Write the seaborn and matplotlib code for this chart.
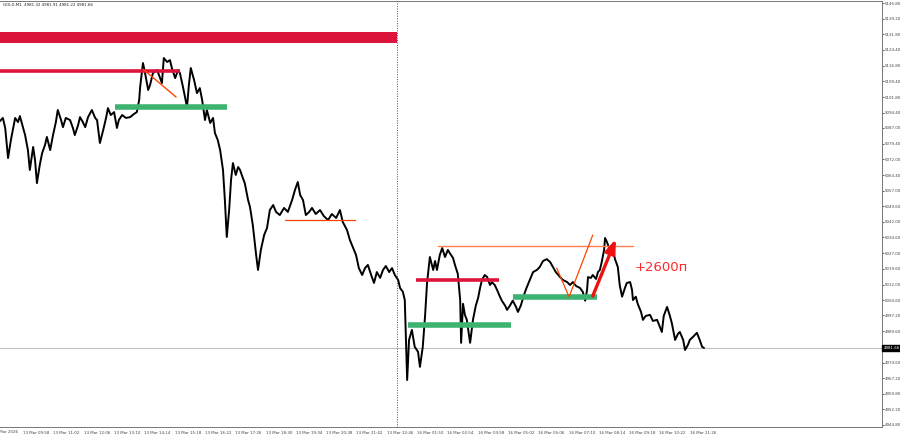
import matplotlib
matplotlib.use("Agg")
import matplotlib.pyplot as plt
import matplotlib.transforms as mtransforms
import seaborn as sns
import pandas as pd

# M1 bar index (minutes from chart start) and price
bars = [0, 6, 11, 17, 23, 32, 38, 42, 49, 53, 59, 63, 70, 74, 78, 84, 89, 95, 99, 106,
        112, 118, 122, 129, 133, 139, 148, 154, 158, 165, 169, 175, 180, 186, 194, 201, 205, 211, 218, 224,
        228, 234, 241, 247, 251, 258, 266, 275, 283, 289, 294, 296, 302, 306, 313, 317, 323, 332, 338, 342,
        346, 353, 359, 363, 370, 376, 380, 387, 395, 399, 403, 410, 416, 422, 427, 433, 437, 444, 450, 454,
        460, 465, 471, 475, 479, 484, 488, 492, 498, 503, 507, 513, 517, 524, 528, 534, 541, 545, 551, 558,
        564, 570, 577, 583, 591, 600, 608, 617, 623, 629, 634, 640, 646, 653, 659, 667, 676, 684, 693, 701,
        710, 718, 724, 733, 739, 746, 752, 758, 765, 771, 777, 784, 790, 796, 803, 809, 815, 822, 828, 834,
        841, 845, 851, 855, 860, 864, 870, 876, 883, 887, 893, 898, 902, 908, 915, 919, 923, 929, 934, 940,
        946, 950, 957, 961, 967, 972, 974, 978, 982, 986, 993, 999, 1005, 1010, 1014, 1018, 1024, 1029, 1035, 1039,
        1045, 1050, 1056, 1060, 1067, 1071, 1077, 1083, 1090, 1094, 1100, 1105, 1109, 1113, 1119, 1126, 1134, 1140, 1147, 1155,
        1162, 1168, 1174, 1183, 1189, 1198, 1204, 1210, 1217, 1225, 1231, 1236, 1240, 1242, 1248, 1252, 1259, 1263, 1267, 1271,
        1276, 1278, 1282, 1288, 1293, 1299, 1305, 1309, 1314, 1320, 1324, 1331, 1335, 1337, 1343, 1347, 1354, 1358, 1364, 1373,
        1379, 1388, 1394, 1398, 1402, 1409, 1415, 1419, 1426, 1432, 1436, 1443, 1447, 1453, 1457, 1464, 1472, 1478, 1483, 1487]
price = [5090.3, 5091.8, 5087.0, 5072.6, 5081.2, 5091.8, 5089.8, 5092.7, 5087.0, 5083.6, 5076.4, 5066.9, 5077.9, 5071.6, 5060.6, 5069.3, 5075.0, 5078.8, 5082.7, 5076.4,
         5083.6, 5089.8, 5095.6, 5090.8, 5087.4, 5091.8, 5090.8, 5087.0, 5083.6, 5088.4, 5092.2, 5089.8, 5087.4, 5092.2, 5095.6, 5091.8, 5090.8, 5079.8, 5086.0, 5091.8,
         5096.5, 5093.2, 5094.6, 5087.0, 5090.8, 5093.2, 5091.8, 5092.2, 5093.7, 5094.6, 5100.4, 5106.6, 5118.1, 5113.8, 5105.2, 5107.6, 5113.3, 5114.7, 5110.9, 5108.5,
         5120.5, 5118.6, 5119.5, 5115.7, 5110.9, 5114.7, 5113.3, 5106.1, 5097.0, 5107.6, 5115.7, 5109.9, 5103.7, 5106.1, 5100.4, 5090.8, 5095.6, 5089.4, 5091.8, 5084.6,
         5081.2, 5076.4, 5066.9, 5052.5, 5034.8, 5047.7, 5062.1, 5070.2, 5064.5, 5068.3, 5066.9, 5063.0, 5060.6, 5052.5, 5049.2, 5040.5, 5026.2, 5019.0, 5028.6, 5035.8,
         5039.1, 5047.7, 5050.1, 5046.8, 5045.3, 5048.7, 5046.8, 5052.5, 5057.3, 5061.1, 5054.9, 5052.5, 5045.3, 5046.8, 5048.7, 5045.8, 5047.7, 5044.8, 5042.9, 5045.8,
         5043.9, 5047.7, 5042.0, 5038.1, 5033.4, 5029.5, 5026.2, 5019.9, 5016.6, 5019.9, 5021.4, 5016.6, 5012.8, 5018.0, 5015.2, 5019.0, 5020.9, 5018.0, 5019.9, 5016.6,
         5014.2, 5010.4, 5008.5, 5004.6, 4966.3, 4985.5, 4990.3, 4982.2, 4979.8, 4972.6, 4982.2, 4997.5, 5012.8, 5025.2, 5019.0, 5023.3, 5019.0, 5026.2, 5029.5, 5025.2,
         5028.6, 5027.1, 5024.7, 5021.4, 5017.1, 5004.6, 4984.1, 5002.8, 4997.5, 4995.1, 4984.1, 4995.1, 5001.9, 5005.7, 5010.4, 5014.2, 5016.6, 5015.6, 5011.8, 5013.2,
         5011.8, 5009.4, 5006.2, 5004.3, 5001.9, 4999.9, 5001.9, 5004.3, 5001.3, 4998.9, 5001.9, 5005.7, 5008.5, 5010.9, 5014.2, 5018.0, 5019.0, 5020.4, 5023.3, 5024.2,
         5022.8, 5020.4, 5018.0, 5015.6, 5014.2, 5013.2, 5011.8, 5013.2, 5011.3, 5010.4, 5008.5, 5004.3, 5009.4, 5015.6, 5015.2, 5016.6, 5014.7, 5018.0, 5019.0, 5022.8,
         5028.6, 5034.3, 5032.4, 5028.6, 5030.5, 5024.2, 5020.4, 5011.8, 5006.2, 5010.4, 5012.8, 5013.2, 5009.4, 5004.6, 5006.2, 5002.8, 4998.9, 4995.1, 4997.0, 4997.5,
         4994.6, 4995.1, 4991.7, 4989.3, 4997.0, 5001.3, 4997.0, 4993.6, 4985.5, 4988.4, 4989.3, 4985.5, 4980.7, 4983.1, 4985.5, 4987.0, 4988.9, 4985.5, 4982.2, 4981.66]

price_ticks = [5146.80, 5139.20, 5131.80, 5124.40, 5116.80, 5109.40, 5101.80, 5094.40, 5087.00, 5079.40,
               5072.00, 5064.40, 5057.00, 5049.60, 5042.00, 5034.60, 5027.00, 5019.60, 5012.00, 5004.60,
               4997.20, 4989.60, 4974.60, 4967.20, 4959.80, 4952.20, 4944.80]
time_labels = ["13 Mar 2026", "13 Mar 09:58", "13 Mar 11:02", "13 Mar 12:06", "13 Mar 13:10", "13 Mar 14:14",
               "13 Mar 15:18", "13 Mar 16:22", "13 Mar 17:26", "13 Mar 18:30", "13 Mar 19:34", "13 Mar 20:38",
               "13 Mar 21:42", "13 Mar 22:46", "16 Mar 01:50", "16 Mar 02:54", "16 Mar 03:58", "16 Mar 05:02",
               "16 Mar 06:06", "16 Mar 07:10", "16 Mar 08:14", "16 Mar 09:18", "16 Mar 10:22", "16 Mar 11:26"]
time_ticks = [-15 + 64 * i for i in range(len(time_labels))]

last_price = 4981.66
day_break = 838

# drawn levels: (price, start bar, end bar)
supply_zone = (5127.7, 5133.0, 0, 838)
red_levels = [(5114.4, 0, 380), (5014.1, 879, 1054)]
green_levels = [(5097.1, 243, 479), (4992.6, 862, 1079), (5006.0, 1083, 1261)]
thin_levels = [(5042.9, 602, 750), (5030.6, 925, 1337)]
trend_x = [302, 372]
trend_y = [5115.2, 5101.8]
v_x = [1176, 1202, 1252]
v_y = [5019.9, 5006.1, 5035.7]
arrow_from = (1252, 5006.5)
arrow_to = (1301, 5033.8)

df = pd.DataFrame({"bar": bars, "price": price})

sns.set_style("white")
plt.rcParams["font.family"] = ["DejaVu Sans"]

fig = plt.figure(figsize=(9, 4.38), dpi=100)
ax = fig.add_axes([0.0, 0.0251, 0.98, 0.9726])
x_max = 1863

ax.axhspan(supply_zone[0], supply_zone[1], xmin=0, xmax=supply_zone[3] / x_max,
           color="#dc143c", lw=0, zorder=1)
ax.axhline(last_price, color="#c0c0c0", lw=0.8, zorder=1)
ax.axvline(day_break, color="#555555", lw=0.7, ls=(0, (1, 1.5)), zorder=1)

sns.lineplot(data=df, x="bar", y="price", color="black", lw=1.4,
             estimator=None, sort=False, ax=ax, zorder=3)

for p, a, b in red_levels:
    ax.plot([a, b], [p, p], color="#dc143c", lw=2.6, solid_capstyle="butt", zorder=4)
for p, a, b in green_levels:
    ax.plot([a, b], [p, p], color="#3cb371", lw=4, solid_capstyle="butt", zorder=4)
ax.plot([thin_levels[0][1], thin_levels[0][2]], [thin_levels[0][0]] * 2, color="#ff4500", lw=0.9, zorder=4)
ax.plot([thin_levels[1][1], thin_levels[1][2]], [thin_levels[1][0]] * 2, color="#ff7f50", lw=1.0, zorder=4)
ax.plot(trend_x, trend_y, color="#ff4500", lw=1.0, zorder=4)
ax.plot(v_x, v_y, color="#ff4500", lw=0.9, zorder=4)
ax.annotate("", xy=arrow_to, xytext=arrow_from,
            arrowprops=dict(arrowstyle="-|>,head_length=0.8,head_width=0.3",
                            color="#ee1111", lw=2.4, shrinkA=0, shrinkB=0), zorder=5)
ax.text(1341, 5020.0, "+2600п", color="#ff2a2a", fontsize=9.5, va="center", ha="left")

ax.set_xlabel("")
ax.set_ylabel("")

ax.yaxis.tick_right()
ax.set_yticks(price_ticks)
ax.set_yticklabels([f"{v:.2f}" for v in price_ticks])
ax.set_xticks(time_ticks[1:])
ax.set_xticklabels(time_labels[1:])
ax.set_xlim(0, x_max)
ax.set_ylim(4943.8, 5147.8)
ax.tick_params(axis="y", labelsize=2.9, length=1.5, width=0.6, pad=0.6, colors="#444444", direction="out")
ax.tick_params(axis="x", labelsize=2.9, length=2, width=0.6, pad=1, colors="#444444", direction="out")
for lbl in ax.get_xticklabels():
    lbl.set_horizontalalignment("left")

# first date label sits left of the visible area and is cut by the figure edge
first_tr = mtransforms.blended_transform_factory(ax.transData, ax.transAxes)
ax.text(time_ticks[0], -0.0075, time_labels[0], transform=first_tr, fontsize=2.9,
        color="#444444", ha="left", va="top", clip_on=False)

ax.spines["left"].set_visible(False)
for side in ["top", "right", "bottom"]:
    ax.spines[side].set_color("#777777")
    ax.spines[side].set_linewidth(0.7)

ax.text(1.0015, last_price, f"{last_price:.2f}", transform=ax.get_yaxis_transform(),
        fontsize=2.9, color="white", va="center", ha="left",
        bbox=dict(boxstyle="square,pad=0.25", fc="black", ec="black"), zorder=6)
ax.text(0.003, 0.995, "GOLD,M1  4981.32 4981.91 4981.22 4981.66", transform=ax.transAxes,
        fontsize=2.9, color="#222222", va="top", ha="left")

fig.savefig("out.png", dpi=100)
